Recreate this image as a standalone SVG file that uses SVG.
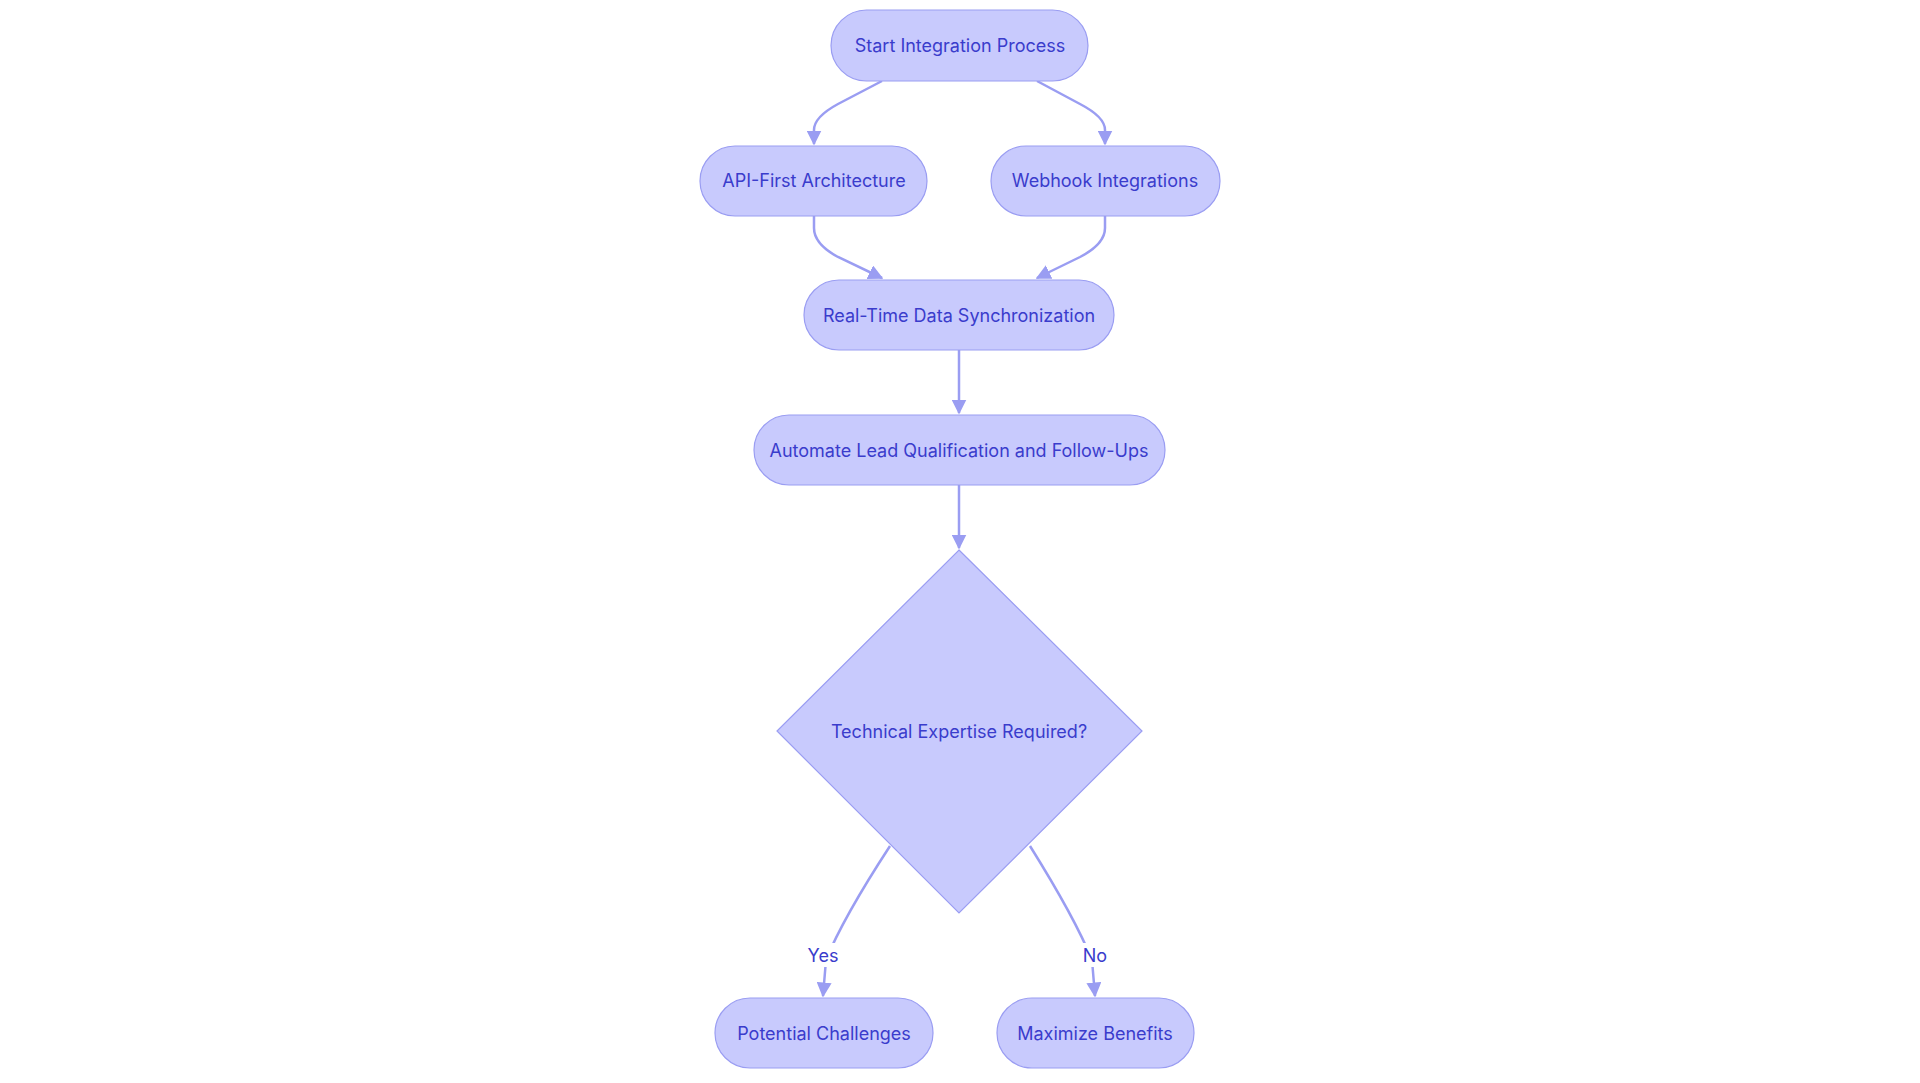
<svg xmlns="http://www.w3.org/2000/svg" width="1920" height="1083" viewBox="0 0 1920 1083">
<style>
.n{fill:#c8cafd;stroke:#9a9df2;stroke-width:1.2}
.t{font-family:Inter,"Noto Sans",sans-serif;font-size:18px;fill:#3a3ccc;text-anchor:middle;dominant-baseline:central}
.e{fill:none;stroke:#9a9df2;stroke-width:2.5}
</style>
<defs><marker id="a" viewBox="0 0 10 10" refX="9" refY="5" markerWidth="6" markerHeight="6" orient="auto"><path d="M0,0L10,5L0,10z" fill="#9a9df2"/></marker></defs>
<rect width="1920" height="1083" fill="#fff"/>
<g id="edges">
<path class="e" marker-end="url(#a)" d="M882,81 L838,104 Q814,117 814,130 L814,144"/>
<path class="e" marker-end="url(#a)" d="M1037,81 L1080,104 Q1105,117 1105,130 L1105,144"/>
<path class="e" marker-end="url(#a)" d="M814,216 L814,228 Q814,244 838,257 L882,278"/>
<path class="e" marker-end="url(#a)" d="M1105,216 L1105,228 Q1105,244 1080,257 L1037,278"/>
<path class="e" marker-end="url(#a)" d="M959,350 L959,413"/>
<path class="e" marker-end="url(#a)" d="M959,485 L959,548"/>
<path class="e" marker-end="url(#a)" d="M890,846 Q843,918 826,960 L823,996"/>
<path class="e" marker-end="url(#a)" d="M1030,846 Q1075,918 1092,960 L1095,996"/>
<rect x="806" y="943" width="34" height="24" fill="#fff"/>
<text class="t" x="823" y="955">Yes</text>
<rect x="1081" y="943" width="28" height="24" fill="#fff"/>
<text class="t" x="1095" y="955">No</text>
</g>
<g id="start"><rect class="n" x="831" y="10" width="257" height="71" rx="35.5"/><text class="t" x="960" y="45">Start Integration Process</text></g>
<g id="api"><rect class="n" x="700" y="146" width="227" height="70" rx="35"/><text class="t" x="814" y="180">API-First Architecture</text></g>
<g id="webhook"><rect class="n" x="991" y="146" width="229" height="70" rx="35"/><text class="t" x="1105" y="180">Webhook Integrations</text></g>
<g id="rt"><rect class="n" x="804" y="280" width="310" height="70" rx="35"/><text class="t" x="959" y="315">Real-Time Data Synchronization</text></g>
<g id="auto"><rect class="n" x="754" y="415" width="411" height="70" rx="35"/><text class="t" x="959" y="450">Automate Lead Qualification and Follow-Ups</text></g>
<g id="decision"><polygon class="n" points="959,550 1142,731 959,913 777,731"/><text class="t" x="959" y="731">Technical Expertise Required?</text></g>
<g id="challenges"><rect class="n" x="715" y="998" width="218" height="70" rx="35"/><text class="t" x="824" y="1033">Potential Challenges</text></g>
<g id="benefits"><rect class="n" x="997" y="998" width="197" height="70" rx="35"/><text class="t" x="1095" y="1033">Maximize Benefits</text></g>
</svg>
